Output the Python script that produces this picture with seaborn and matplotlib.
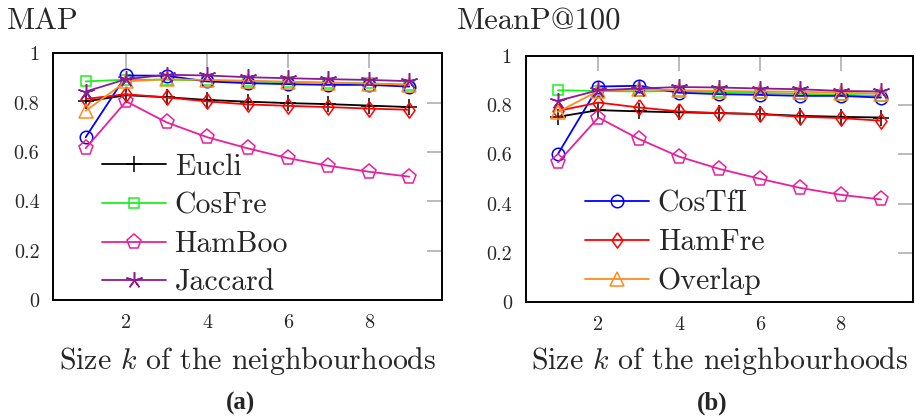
from matplotlib import pyplot as plt
import numpy as np
import pandas
import seaborn as sns

# neighbourhood sizes
k = [1, 2, 3, 4, 5, 6, 7, 8, 9]
measures = ["Eucli", "CosFre", "CosTfI", "HamBoo", "HamFre", "Overlap", "Jaccard"]

# MAP values (panel a)
map_eucli = [0.805, 0.83, 0.822, 0.811, 0.804, 0.798, 0.794, 0.788, 0.782]
map_cosfre = [0.886, 0.893, 0.893, 0.89, 0.886, 0.883, 0.881, 0.878, 0.873]
map_costfi = [0.66, 0.91, 0.909, 0.886, 0.879, 0.875, 0.872, 0.872, 0.865]
map_hamboo = [0.615, 0.805, 0.72, 0.66, 0.615, 0.575, 0.544, 0.52, 0.50]
map_hamfre = [0.815, 0.834, 0.821, 0.805, 0.793, 0.787, 0.782, 0.776, 0.771]
map_overlap = [0.767, 0.886, 0.895, 0.892, 0.889, 0.885, 0.881, 0.877, 0.873]
map_jaccard = [0.845, 0.895, 0.913, 0.91, 0.903, 0.899, 0.895, 0.892, 0.887]

# MeanP@100 values (panel b)
mp_eucli = [0.753, 0.78, 0.775, 0.771, 0.768, 0.764, 0.757, 0.753, 0.75]
mp_cosfre = [0.861, 0.858, 0.856, 0.858, 0.853, 0.85, 0.846, 0.843, 0.838]
mp_costfi = [0.602, 0.876, 0.879, 0.851, 0.845, 0.842, 0.838, 0.838, 0.831]
mp_hamboo = [0.568, 0.75, 0.663, 0.591, 0.541, 0.501, 0.464, 0.436, 0.417]
mp_hamfre = [0.777, 0.811, 0.791, 0.775, 0.768, 0.764, 0.753, 0.748, 0.737]
mp_overlap = [0.773, 0.858, 0.865, 0.861, 0.858, 0.856, 0.855, 0.851, 0.847]
mp_jaccard = [0.818, 0.861, 0.868, 0.874, 0.872, 0.868, 0.865, 0.858, 0.856]

y_ticks = [0, 0.2, 0.4, 0.6, 0.8, 1]
y_tick_labels = ["0", "0.2", "0.4", "0.6", "0.8", "1"]
x_ticks = [2, 4, 6, 8]

colors = {"Eucli": "black", "CosFre": "#1cf01c", "CosTfI": "#0000ff", "HamBoo": "#e8209a",
          "HamFre": "#ff0000", "Overlap": "#ff8c1a", "Jaccard": "#8b1a96"}
diamond = [(0, 1), (0.72, 0), (0, -1), (-0.72, 0), (0, 1)]
markers = {"Eucli": "+", "CosFre": "s", "CosTfI": "o", "HamBoo": "p",
           "HamFre": diamond, "Overlap": "^", "Jaccard": (5, 2, 0)}
msizes = {"Eucli": 11, "CosFre": 7.5, "CosTfI": 9, "HamBoo": 11,
          "HamFre": 11, "Overlap": 9.5, "Jaccard": 12}

df_map = pandas.DataFrame({"k": k, "Eucli": map_eucli, "CosFre": map_cosfre, "CosTfI": map_costfi,
                           "HamBoo": map_hamboo, "HamFre": map_hamfre, "Overlap": map_overlap,
                           "Jaccard": map_jaccard})
df_mp = pandas.DataFrame({"k": k, "Eucli": mp_eucli, "CosFre": mp_cosfre, "CosTfI": mp_costfi,
                          "HamBoo": mp_hamboo, "HamFre": mp_hamfre, "Overlap": mp_overlap,
                          "Jaccard": mp_jaccard})

sns.set_style("white")
plt.rcParams['font.family'] = ['cmr10']
plt.rcParams['mathtext.fontset'] = 'cm'
plt.rcParams['axes.unicode_minus'] = False

fig = plt.figure(figsize=(9.16, 4.16), dpi=100)
ax1 = fig.add_axes([0.0582, 0.2788, 0.424, 0.5931])
ax2 = fig.add_axes([0.5739, 0.2740, 0.4231, 0.5913])

def draw(ax, df, legend_names, anchor):
    handles = {}
    for m in measures:
        sns.lineplot(data=df, x="k", y=m, ax=ax, color=colors[m], linewidth=1.3,
                     marker=markers[m], markersize=msizes[m], markerfacecolor='none',
                     markeredgecolor=colors[m], markeredgewidth=1.1)
        handles[m] = ax.lines[-1]
    ax.set_xlim(0.2, 9.8)
    ax.set_ylim(0, 1)
    ax.set_xticks(x_ticks)
    ax.set_yticks(y_ticks)
    ax.set_yticklabels(y_tick_labels)
    ax.set_xlabel("")
    ax.set_ylabel("")
    ax.tick_params(direction='in', length=11, width=1.1, color='#a8a8a8', labelsize=14.5,
                   top=True, right=True, pad=10)
    for s in ax.spines.values():
        s.set_linewidth(1.4)
        s.set_color('black')
    ax.legend(handles=[handles[n] for n in legend_names], labels=legend_names,
              loc='center left', bbox_to_anchor=anchor, frameon=False, fontsize=21.5,
              handlelength=2.14, handletextpad=0.3, labelspacing=0.38,
              borderpad=0, borderaxespad=0, numpoints=1)

draw(ax1, df_map, ["Eucli", "CosFre", "HamBoo", "Jaccard"], (0.1246, 0.304))
draw(ax2, df_mp, ["CosTfI", "HamFre", "Overlap"], (0.153, 0.242))

# panel titles, axis labels and captions
fig.text(0.0076, 0.930, "MAP", fontsize=22, ha='left', va='baseline')
fig.text(0.499, 0.928, "MeanP@100", fontsize=22, ha='left', va='baseline')
fig.text(0.270, 0.132, r"Size $k$ of the neighbourhoods", fontsize=21.5, ha='center', va='center')
fig.text(0.7855, 0.132, r"Size $k$ of the neighbourhoods", fontsize=21.5, ha='center', va='center')
fig.text(0.263, 0.031, "(a)", fontsize=18, fontweight='bold', family='Liberation Serif',
         ha='center', va='center')
fig.text(0.778, 0.031, "(b)", fontsize=18, fontweight='bold', family='Liberation Serif',
         ha='center', va='center')

plt.savefig("out.png", dpi=100)
